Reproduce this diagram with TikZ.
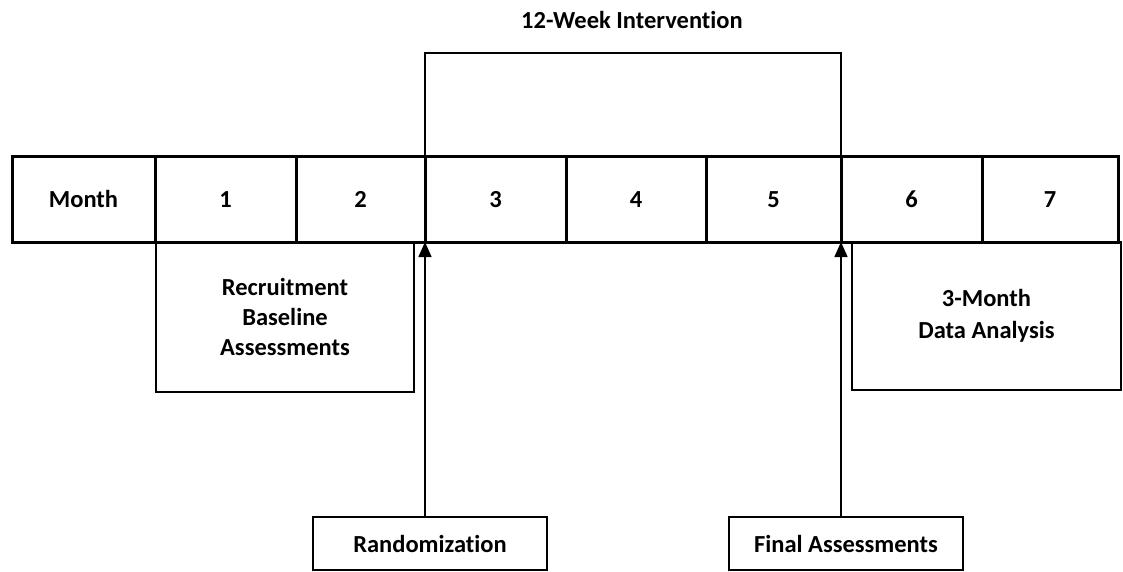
\documentclass[tikz,border=0pt]{standalone}
\usepackage{fontspec}
\setmainfont[Ligatures=NoCommon]{Carlito}
\usetikzlibrary{arrows.meta}
\begin{document}
\begin{tikzpicture}[x=1pt,y=-1pt,
  cell/.style={draw, line width=3pt, outer sep=0pt, minimum height=86pt, inner sep=0pt, text height=16pt, text depth=0pt, font=\fontsize{24.5}{28}\selectfont\bfseries},
  infobox/.style={draw, line width=1.8pt, outer sep=0pt, inner sep=0pt, align=center, font=\fontsize{24.5}{30}\selectfont\bfseries},
  conn/.style={line width=1.5pt},
  arr/.style={line width=1.5pt, -{Triangle[width=13pt,length=15pt]}}]
\useasboundingbox (0,0) rectangle (1123,571);
\node[cell, minimum width=143pt] (m0) at (83.5,199) {Month};
\node[cell, minimum width=141pt] (m1) at (225.5,199) {1};
\node[cell, minimum width=129pt] (m2) at (360.5,199) {2};
\node[cell, minimum width=141pt] (m3) at (495.5,199) {3};
\node[cell, minimum width=140pt] (m4) at (636,199) {4};
\node[cell, minimum width=135pt] (m5) at (773.5,199) {5};
\node[cell, minimum width=141pt] (m6) at (911.5,199) {6};
\node[cell, minimum width=136pt] (m7) at (1050,199) {7};
\node[font=\fontsize{24.5}{28}\selectfont\bfseries] (title) at (632,20) {12-Week Intervention};
\coordinate (bl) at (425,53);
\coordinate (br) at (841,53);
\draw[conn] (m3.north west) -- (bl) -- (br) -- (m5.north east);
\node[infobox, minimum width=258pt, minimum height=150pt] (recruit) at (285,317) {Recruitment\\Baseline\\Assessments};
\node[infobox, minimum width=269pt, minimum height=148pt] (analysis) at (986.5,316) {3-Month\\[2pt]Data Analysis};
\node[infobox, minimum width=234pt, minimum height=53pt] (rand) at (430,543.5) {Randomization};
\node[infobox, minimum width=234pt, minimum height=53pt] (final) at (846,543.5) {Final Assessments};
\draw[arr] (rand.north -| m3.south west) -- (m3.south west);
\draw[arr] (final.north -| m5.south east) -- (m5.south east);
\end{tikzpicture}
\end{document}
